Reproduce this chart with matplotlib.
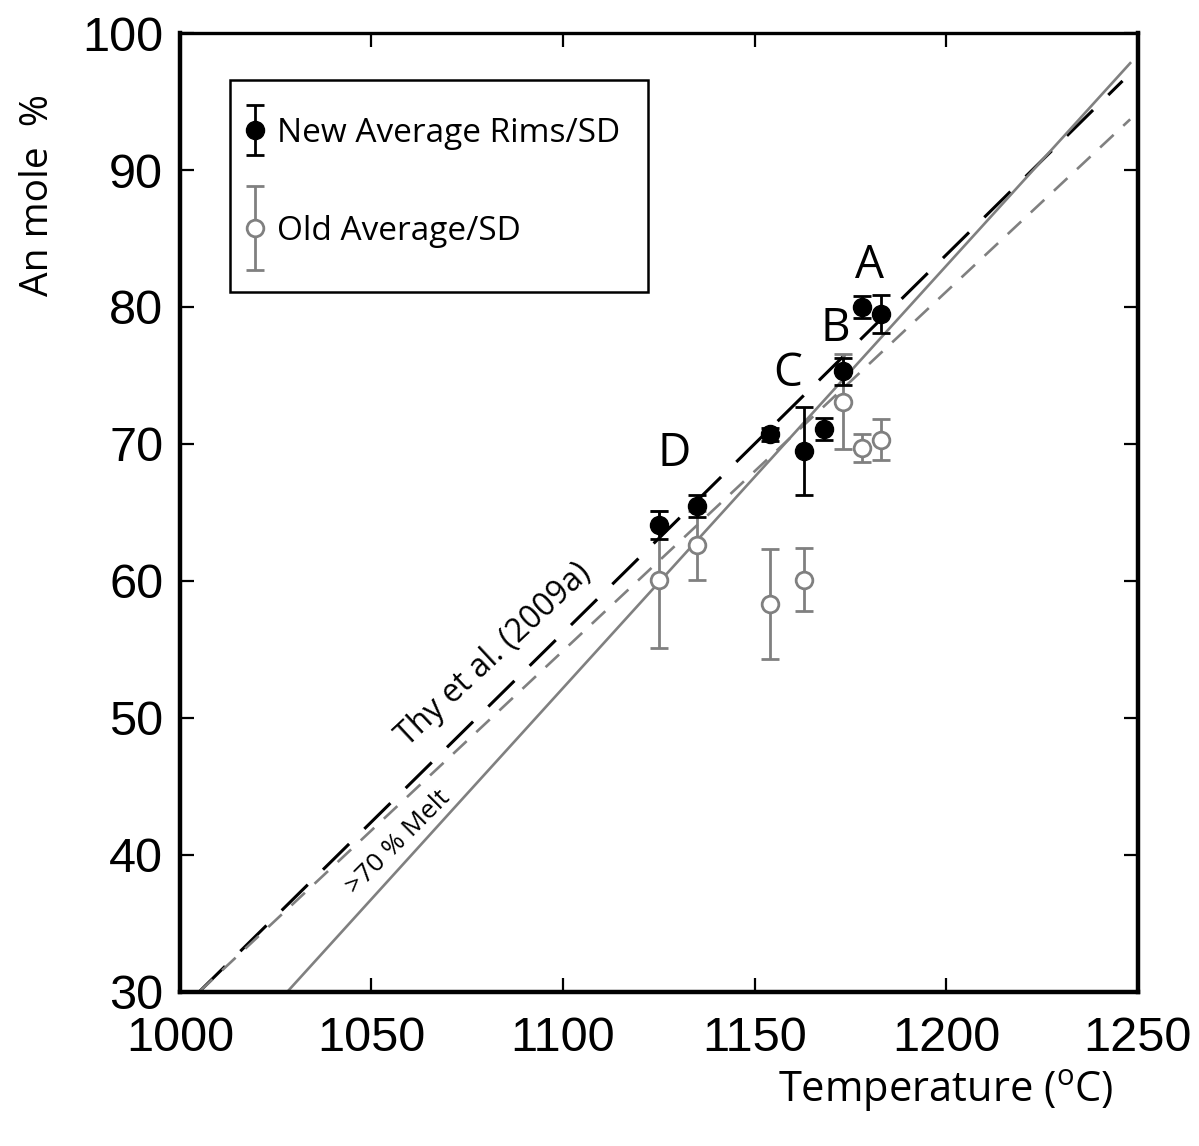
import matplotlib
matplotlib.use("Agg")
import matplotlib.pyplot as plt
from matplotlib.legend_handler import HandlerErrorbar
from matplotlib.patches import Rectangle

# ---- data ----
new_T = [1125, 1135, 1154, 1163, 1168, 1173, 1178, 1183]
new_An = [64.1, 65.5, 70.7, 69.5, 71.1, 75.3, 80.0, 79.5]
new_SD = [1.0, 0.8, 0.5, 3.2, 0.8, 1.0, 0.8, 1.4]

old_T = [1125, 1135, 1154, 1163, 1173, 1178, 1183]
old_An = [60.1, 62.6, 58.3, 60.1, 73.1, 69.7, 70.3]
old_SD = [5.0, 2.5, 4.0, 2.3, 3.5, 1.0, 1.5]

thy_T = [1005, 1246]
thy_An = [30.0, 96.5]
fit_dash_T = [1005, 1248]
fit_dash_An = [30.0, 93.7]
melt_T = [1028, 1248]
melt_An = [30.0, 97.8]

point_labels = ["A", "B", "C", "D"]
point_label_T = [1180, 1171, 1158.5, 1129]
point_label_An = [83.0, 78.4, 75.1, 69.3]

xticks = [1000, 1050, 1100, 1150, 1200, 1250]
yticks = [30, 40, 50, 60, 70, 80, 90, 100]

GREY = "#808080"
TXT = ["Open Sans", "DejaVu Sans"]
NUM = ["Liberation Sans", "DejaVu Sans"]

plt.rcParams["mathtext.fontset"] = "custom"
plt.rcParams["mathtext.rm"] = "Open Sans"

fig = plt.figure(figsize=(11.99, 11.46), dpi=100)
ax = fig.add_axes([0.150, 0.1344, 0.799, 0.8368])

ax.plot(thy_T, thy_An, color="black", lw=2.2, dashes=(12, 7), zorder=2)
ax.plot(fit_dash_T, fit_dash_An, color=GREY, lw=1.9, dashes=(7, 5), zorder=2)
ax.plot(melt_T, melt_An, color=GREY, lw=1.9, zorder=2)

h_old = ax.errorbar(old_T, old_An, yerr=old_SD, fmt="o", color=GREY, mfc="white",
                    mec=GREY, mew=2, ms=12, elinewidth=2, capsize=6.5, capthick=2,
                    zorder=3, label="Old Average/SD")
h_new = ax.errorbar(new_T, new_An, yerr=new_SD, fmt="o", color="black", mfc="black",
                    mec="black", ms=13, elinewidth=2, capsize=6.5, capthick=2,
                    zorder=4, label="New Average Rims/SD")

for lab, t, a in zip(point_labels, point_label_T, point_label_An):
    ax.text(t, a, lab, fontsize=33, family=TXT, ha="center", va="center", zorder=5)

ax.text(1082, 54.6, "Thy et al. (2009a)", fontsize=23, family=TXT, rotation=43,
        ha="center", va="center", rotation_mode="anchor")
ax.text(1057, 40.9, ">70 % Melt", fontsize=19, family=TXT, rotation=45,
        ha="center", va="center", rotation_mode="anchor")

ax.set_xlim(1000, 1250)
ax.set_ylim(30, 100)
ax.set_xticks(xticks)
ax.set_yticks(yticks)
ax.tick_params(direction="in", length=10, width=1.6, top=True, right=True,
               labelsize=35)
ax.tick_params(axis="x", pad=17)
ax.tick_params(axis="y", pad=12)
for lab in ax.get_xticklabels() + ax.get_yticklabels():
    lab.set_family(NUM)
for s in ["left", "bottom", "right"]:
    ax.spines[s].set_linewidth(3.2)
ax.spines["top"].set_linewidth(2.4)

fig.text(0.032, 0.83, "An mole  %", rotation=90, fontsize=28, family=TXT,
         ha="center", va="center")
fig.text(0.789, 0.048, r"Temperature ($^{\mathrm{o}}$C)", fontsize=30, family=TXT,
         ha="center", va="center")

# legend frame
ax.add_patch(Rectangle((0.0522, 0.730), 0.4363, 0.221, transform=ax.transAxes,
                       fill=False, edgecolor="black", lw=1.8, zorder=6))
leg = ax.legend(handles=[h_new, h_old], loc="upper left",
                bbox_to_anchor=(0.071, 0.9125), frameon=False,
                prop={"family": TXT, "size": 24},
                handlelength=0.45, handleheight=0.7, handletextpad=0.42,
                labelspacing=1.94, borderpad=0, borderaxespad=0,
                handler_map={h_new: HandlerErrorbar(xerr_size=0.5, yerr_size=0.75),
                             h_old: HandlerErrorbar(xerr_size=0.5, yerr_size=1.27)})

fig.savefig("out.png", dpi=100)
